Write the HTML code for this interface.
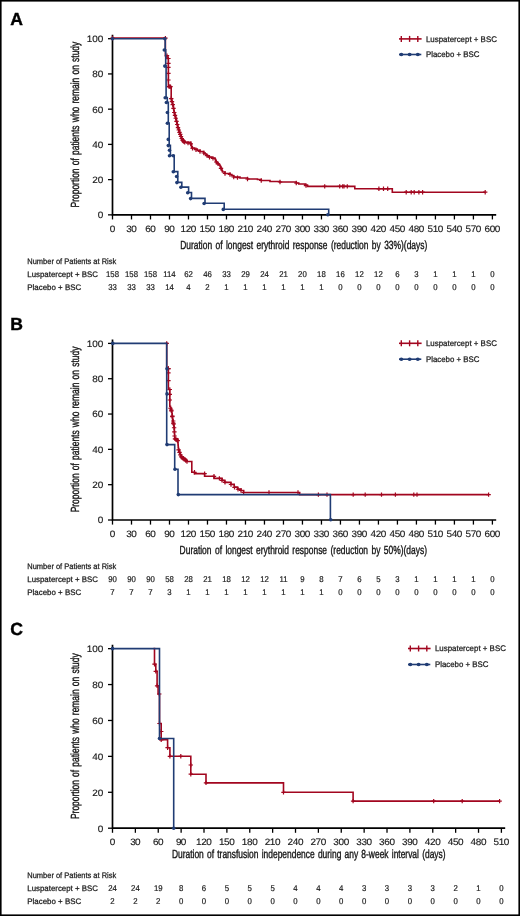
<!DOCTYPE html>
<html><head><meta charset="utf-8"><style>
html,body{margin:0;padding:0;background:#fff;}
body{width:520px;height:916px;overflow:hidden;}
.tk{font-size:9.3px;fill:#1a1a1a;stroke:#1a1a1a;stroke-width:0.15px;}
.ttl{font-size:11.8px;fill:#111;stroke:#111;stroke-width:0.35px;}
.rt{font-size:8px;fill:#1a1a1a;stroke:#1a1a1a;stroke-width:0.25px;}
.rn{font-size:8.4px;fill:#1a1a1a;stroke:#1a1a1a;stroke-width:0.2px;text-anchor:middle;}
svg{display:block;will-change:transform;text-rendering:geometricPrecision;font-family:"Liberation Sans", sans-serif;}
</style></head><body>
<svg width="520" height="916" viewBox="0 0 520 916">
<rect x="0.8" y="0.8" width="518.4" height="914.4" fill="#fff" stroke="#000" stroke-width="1.6"/>
<text x="10.3" y="25.1" font-size="17.6" font-weight="bold" fill="#000" stroke="#000" stroke-width="0.4">A</text>
<path d="M112.5,34.7 V214.85 H496.20" stroke="#000" stroke-width="1.7" fill="none"/>
<path d="M108.0,214.85 H112.5" stroke="#000" stroke-width="1.3"/>
<text transform="translate(103.3,218.25) scale(1.07,1)" class="tk" text-anchor="end">0</text>
<path d="M108.0,179.62 H112.5" stroke="#000" stroke-width="1.3"/>
<text transform="translate(103.3,183.02) scale(1.07,1)" class="tk" text-anchor="end">20</text>
<path d="M108.0,144.39 H112.5" stroke="#000" stroke-width="1.3"/>
<text transform="translate(103.3,147.79) scale(1.07,1)" class="tk" text-anchor="end">40</text>
<path d="M108.0,109.16 H112.5" stroke="#000" stroke-width="1.3"/>
<text transform="translate(103.3,112.56) scale(1.07,1)" class="tk" text-anchor="end">60</text>
<path d="M108.0,73.93 H112.5" stroke="#000" stroke-width="1.3"/>
<text transform="translate(103.3,77.33) scale(1.07,1)" class="tk" text-anchor="end">80</text>
<path d="M108.0,38.70 H112.5" stroke="#000" stroke-width="1.3"/>
<text transform="translate(103.3,42.10) scale(1.07,1)" class="tk" text-anchor="end">100</text>
<path d="M112.50,214.85 V219.45" stroke="#000" stroke-width="1.3"/>
<text transform="translate(112.50,232.05) scale(1.07,1)" class="tk" text-anchor="middle">0</text>
<path d="M131.50,214.85 V219.45" stroke="#000" stroke-width="1.3"/>
<text transform="translate(131.50,232.05) scale(1.07,1)" class="tk" text-anchor="middle" textLength="9.72" lengthAdjust="spacing">30</text>
<path d="M150.49,214.85 V219.45" stroke="#000" stroke-width="1.3"/>
<text transform="translate(150.49,232.05) scale(1.07,1)" class="tk" text-anchor="middle" textLength="9.72" lengthAdjust="spacing">60</text>
<path d="M169.49,214.85 V219.45" stroke="#000" stroke-width="1.3"/>
<text transform="translate(169.49,232.05) scale(1.07,1)" class="tk" text-anchor="middle" textLength="9.72" lengthAdjust="spacing">90</text>
<path d="M188.48,214.85 V219.45" stroke="#000" stroke-width="1.3"/>
<text transform="translate(188.48,232.05) scale(1.07,1)" class="tk" text-anchor="middle" textLength="14.81" lengthAdjust="spacing">120</text>
<path d="M207.48,214.85 V219.45" stroke="#000" stroke-width="1.3"/>
<text transform="translate(207.48,232.05) scale(1.07,1)" class="tk" text-anchor="middle" textLength="14.81" lengthAdjust="spacing">150</text>
<path d="M226.47,214.85 V219.45" stroke="#000" stroke-width="1.3"/>
<text transform="translate(226.47,232.05) scale(1.07,1)" class="tk" text-anchor="middle" textLength="14.81" lengthAdjust="spacing">180</text>
<path d="M245.47,214.85 V219.45" stroke="#000" stroke-width="1.3"/>
<text transform="translate(245.47,232.05) scale(1.07,1)" class="tk" text-anchor="middle" textLength="14.81" lengthAdjust="spacing">210</text>
<path d="M264.46,214.85 V219.45" stroke="#000" stroke-width="1.3"/>
<text transform="translate(264.46,232.05) scale(1.07,1)" class="tk" text-anchor="middle" textLength="14.81" lengthAdjust="spacing">240</text>
<path d="M283.46,214.85 V219.45" stroke="#000" stroke-width="1.3"/>
<text transform="translate(283.46,232.05) scale(1.07,1)" class="tk" text-anchor="middle" textLength="14.81" lengthAdjust="spacing">270</text>
<path d="M302.45,214.85 V219.45" stroke="#000" stroke-width="1.3"/>
<text transform="translate(302.45,232.05) scale(1.07,1)" class="tk" text-anchor="middle" textLength="14.81" lengthAdjust="spacing">300</text>
<path d="M321.45,214.85 V219.45" stroke="#000" stroke-width="1.3"/>
<text transform="translate(321.45,232.05) scale(1.07,1)" class="tk" text-anchor="middle" textLength="14.81" lengthAdjust="spacing">330</text>
<path d="M340.44,214.85 V219.45" stroke="#000" stroke-width="1.3"/>
<text transform="translate(340.44,232.05) scale(1.07,1)" class="tk" text-anchor="middle" textLength="14.81" lengthAdjust="spacing">360</text>
<path d="M359.44,214.85 V219.45" stroke="#000" stroke-width="1.3"/>
<text transform="translate(359.44,232.05) scale(1.07,1)" class="tk" text-anchor="middle" textLength="14.81" lengthAdjust="spacing">390</text>
<path d="M378.43,214.85 V219.45" stroke="#000" stroke-width="1.3"/>
<text transform="translate(378.43,232.05) scale(1.07,1)" class="tk" text-anchor="middle" textLength="14.81" lengthAdjust="spacing">420</text>
<path d="M397.43,214.85 V219.45" stroke="#000" stroke-width="1.3"/>
<text transform="translate(397.43,232.05) scale(1.07,1)" class="tk" text-anchor="middle" textLength="14.81" lengthAdjust="spacing">450</text>
<path d="M416.42,214.85 V219.45" stroke="#000" stroke-width="1.3"/>
<text transform="translate(416.42,232.05) scale(1.07,1)" class="tk" text-anchor="middle" textLength="14.81" lengthAdjust="spacing">480</text>
<path d="M435.42,214.85 V219.45" stroke="#000" stroke-width="1.3"/>
<text transform="translate(435.42,232.05) scale(1.07,1)" class="tk" text-anchor="middle" textLength="14.81" lengthAdjust="spacing">510</text>
<path d="M454.41,214.85 V219.45" stroke="#000" stroke-width="1.3"/>
<text transform="translate(454.41,232.05) scale(1.07,1)" class="tk" text-anchor="middle" textLength="14.81" lengthAdjust="spacing">540</text>
<path d="M473.41,214.85 V219.45" stroke="#000" stroke-width="1.3"/>
<text transform="translate(473.41,232.05) scale(1.07,1)" class="tk" text-anchor="middle" textLength="14.81" lengthAdjust="spacing">570</text>
<path d="M492.40,214.85 V219.45" stroke="#000" stroke-width="1.3"/>
<text transform="translate(492.40,232.05) scale(1.07,1)" class="tk" text-anchor="middle" textLength="14.81" lengthAdjust="spacing">600</text>
<text transform="translate(79,124.58) rotate(-90) scale(0.715,1)" class="ttl" text-anchor="middle" word-spacing="1.2" textLength="231.75" lengthAdjust="spacing">Proportion of patients who remain on study</text>
<text transform="translate(180.2,248.75) scale(0.715,1)" class="ttl" word-spacing="1.50" textLength="345.59" lengthAdjust="spacing">Duration of longest erythroid response (reduction by 33%)(days)</text>
<path d="M399.0,38.9 H421.6" stroke="#a2061f" stroke-width="1.6"/>
<path d="M401.30,35.9 V41.9" stroke="#a2061f" stroke-width="1.4"/>
<path d="M409.60,35.9 V41.9" stroke="#a2061f" stroke-width="1.4"/>
<path d="M417.80,35.9 V41.9" stroke="#a2061f" stroke-width="1.4"/>
<text x="425.9" y="41.8" font-size="8.1" fill="#1a1a1a" textLength="71.0" lengthAdjust="spacingAndGlyphs" stroke="#1a1a1a" stroke-width="0.25">Luspatercept + BSC</text>
<path d="M399.0,54.5 H421.3" stroke="#203c74" stroke-width="1.6"/>
<ellipse cx="401.30" cy="54.5" rx="2.0" ry="1.7" fill="#203c74"/>
<ellipse cx="409.60" cy="54.5" rx="2.0" ry="1.7" fill="#203c74"/>
<ellipse cx="417.80" cy="54.5" rx="2.0" ry="1.7" fill="#203c74"/>
<text x="425.9" y="57.4" font-size="8.1" fill="#1a1a1a" textLength="53.6" lengthAdjust="spacingAndGlyphs" stroke="#1a1a1a" stroke-width="0.25">Placebo + BSC</text>
<text x="27.3" y="264.0" class="rt" textLength="88.9" lengthAdjust="spacingAndGlyphs">Number of Patients at Risk</text>
<text x="27.3" y="277.20" class="rt" textLength="70.6" lengthAdjust="spacingAndGlyphs">Luspatercept + BSC</text>
<text x="27.3" y="290.40" class="rt" textLength="53.9" lengthAdjust="spacingAndGlyphs">Placebo + BSC</text>
<text transform="translate(112.50,277.20) scale(0.93,1)" class="rn">158</text>
<text transform="translate(131.50,277.20) scale(0.93,1)" class="rn">158</text>
<text transform="translate(150.49,277.20) scale(0.93,1)" class="rn">158</text>
<text transform="translate(169.49,277.20) scale(0.93,1)" class="rn">114</text>
<text transform="translate(188.48,277.20) scale(0.93,1)" class="rn">62</text>
<text transform="translate(207.48,277.20) scale(0.93,1)" class="rn">46</text>
<text transform="translate(226.47,277.20) scale(0.93,1)" class="rn">33</text>
<text transform="translate(245.47,277.20) scale(0.93,1)" class="rn">29</text>
<text transform="translate(264.46,277.20) scale(0.93,1)" class="rn">24</text>
<text transform="translate(283.46,277.20) scale(0.93,1)" class="rn">21</text>
<text transform="translate(302.45,277.20) scale(0.93,1)" class="rn">20</text>
<text transform="translate(321.45,277.20) scale(0.93,1)" class="rn">18</text>
<text transform="translate(340.44,277.20) scale(0.93,1)" class="rn">16</text>
<text transform="translate(359.44,277.20) scale(0.93,1)" class="rn">12</text>
<text transform="translate(378.43,277.20) scale(0.93,1)" class="rn">12</text>
<text transform="translate(397.43,277.20) scale(0.93,1)" class="rn">6</text>
<text transform="translate(416.42,277.20) scale(0.93,1)" class="rn">3</text>
<text transform="translate(435.42,277.20) scale(0.93,1)" class="rn">1</text>
<text transform="translate(454.41,277.20) scale(0.93,1)" class="rn">1</text>
<text transform="translate(473.41,277.20) scale(0.93,1)" class="rn">1</text>
<text transform="translate(492.40,277.20) scale(0.93,1)" class="rn">0</text>
<text transform="translate(112.50,290.40) scale(0.93,1)" class="rn">33</text>
<text transform="translate(131.50,290.40) scale(0.93,1)" class="rn">33</text>
<text transform="translate(150.49,290.40) scale(0.93,1)" class="rn">33</text>
<text transform="translate(169.49,290.40) scale(0.93,1)" class="rn">14</text>
<text transform="translate(188.48,290.40) scale(0.93,1)" class="rn">4</text>
<text transform="translate(207.48,290.40) scale(0.93,1)" class="rn">2</text>
<text transform="translate(226.47,290.40) scale(0.93,1)" class="rn">1</text>
<text transform="translate(245.47,290.40) scale(0.93,1)" class="rn">1</text>
<text transform="translate(264.46,290.40) scale(0.93,1)" class="rn">1</text>
<text transform="translate(283.46,290.40) scale(0.93,1)" class="rn">1</text>
<text transform="translate(302.45,290.40) scale(0.93,1)" class="rn">1</text>
<text transform="translate(321.45,290.40) scale(0.93,1)" class="rn">1</text>
<text transform="translate(340.44,290.40) scale(0.93,1)" class="rn">0</text>
<text transform="translate(359.44,290.40) scale(0.93,1)" class="rn">0</text>
<text transform="translate(378.43,290.40) scale(0.93,1)" class="rn">0</text>
<text transform="translate(397.43,290.40) scale(0.93,1)" class="rn">0</text>
<text transform="translate(416.42,290.40) scale(0.93,1)" class="rn">0</text>
<text transform="translate(435.42,290.40) scale(0.93,1)" class="rn">0</text>
<text transform="translate(454.41,290.40) scale(0.93,1)" class="rn">0</text>
<text transform="translate(473.41,290.40) scale(0.93,1)" class="rn">0</text>
<text transform="translate(492.40,290.40) scale(0.93,1)" class="rn">0</text>
<path d="M112.50,38.10H165.40H165.40V39.20H165.40V40.30H165.40V41.40H165.40V42.50H165.40V43.60H165.40V44.70H165.40V45.80H165.40V46.90H165.40V48.00H165.40V49.10H165.40V50.20H165.40V51.30H165.40V52.40H165.40V53.50H165.40V54.60H165.40V55.70H167.00H167.00V56.63H167.00V57.57H167.00V58.50H168.40H168.40V59.62H168.40V60.75H168.40V61.87H168.40V63.00H168.40V64.12H168.40V65.24H168.40V66.37H168.40V67.49H168.40V68.62H168.40V69.74H168.40V70.86H168.40V71.99H168.40V73.11H168.40V74.24H168.40V75.36H168.40V76.48H168.40V77.61H168.40V78.73H168.40V79.86H168.40V80.98H168.40V82.10H168.40V83.23H168.40V84.35H168.40V85.48H168.40V86.60H171.20H171.20V87.68H171.20V88.76H171.20V89.85H171.20V90.93H171.20V92.01H171.20V93.09H171.20V94.17H171.20V95.25H171.20V96.34H171.20V97.42H171.20V98.50H171.47V99.57H171.74V100.64H172.01V101.71H172.29V102.79H172.56V103.86H172.83V104.93H173.10V106.00H173.28V107.05H173.47V108.10H173.65V109.15H173.83V110.20H174.02V111.25H174.20V112.30H174.49V113.40H174.77V114.50H175.06V115.60H175.34V116.70H175.63V117.80H175.91V118.90H176.20V120.00H176.46V121.10H176.71V122.20H176.97V123.30H177.23V124.40H177.49V125.50H177.74V126.60H178.00V127.70H178.40V128.92H178.80V130.14H179.20V131.36H179.60V132.58H180.00V133.80H180.38V134.83H180.77V135.87H181.15V136.90H181.53V137.93H181.92V138.97H182.30V140.00H183.45V141.15H184.60V142.30H190.80V143.80H191.08V144.85H191.35V145.90H191.62V146.95H191.90V148.00H194.60V149.17H197.30V150.33H200.00V151.50H203.75V153.00H205.00V154.00H206.25V155.00H207.50V156.00H208.75V157.00H211.88V158.00H215.00V159.00H215.42V160.00H215.83V161.00H216.25V162.00H217.19V163.00H218.12V164.00H219.06V165.00H220.00V166.00H220.50V167.20H221.00V168.40H221.50V169.60H222.00V170.80H222.50V172.00H225.00V173.50H230.00V174.50H231.88V175.75H233.75V177.00H240.00V178.00H247.50V179.00H257.50V179.50H261.25V180.50H270.00V181.50H280.00V182.00H296.25V183.00H298.75V184.00H305.00V185.00H307.50V186.40H354.80H354.80V187.60H354.80V188.80H392.30H392.30V189.93H392.30V191.07H392.30V192.20H485.20" stroke="#a2061f" stroke-width="1.6" fill="none" stroke-linejoin="miter"/>
<path d="M163.20,38.10H167.60M165.40,35.90V40.30" stroke="#a2061f" stroke-width="1.2"/>
<path d="M164.80,55.70H169.20M167.00,53.50V57.90" stroke="#a2061f" stroke-width="1.2"/>
<path d="M166.20,58.50H170.60M168.40,56.30V60.70" stroke="#a2061f" stroke-width="1.2"/>
<path d="M166.80,86.60H171.20M169.00,84.40V88.80" stroke="#a2061f" stroke-width="1.2"/>
<path d="M167.55,86.60H171.95M169.75,84.40V88.80" stroke="#a2061f" stroke-width="1.2"/>
<path d="M168.30,86.60H172.70M170.50,84.40V88.80" stroke="#a2061f" stroke-width="1.2"/>
<path d="M169.05,98.70H173.45M171.25,96.50V100.90" stroke="#a2061f" stroke-width="1.2"/>
<path d="M169.80,101.66H174.20M172.00,99.46V103.86" stroke="#a2061f" stroke-width="1.2"/>
<path d="M170.55,104.62H174.95M172.75,102.42V106.82" stroke="#a2061f" stroke-width="1.2"/>
<path d="M171.30,108.29H175.70M173.50,106.09V110.49" stroke="#a2061f" stroke-width="1.2"/>
<path d="M172.05,112.49H176.45M174.25,110.29V114.69" stroke="#a2061f" stroke-width="1.2"/>
<path d="M172.80,115.38H177.20M175.00,113.18V117.58" stroke="#a2061f" stroke-width="1.2"/>
<path d="M173.55,118.27H177.95M175.75,116.07V120.47" stroke="#a2061f" stroke-width="1.2"/>
<path d="M174.30,121.28H178.70M176.50,119.08V123.48" stroke="#a2061f" stroke-width="1.2"/>
<path d="M175.05,124.49H179.45M177.25,122.29V126.69" stroke="#a2061f" stroke-width="1.2"/>
<path d="M175.80,127.70H180.20M178.00,125.50V129.90" stroke="#a2061f" stroke-width="1.2"/>
<path d="M176.55,129.99H180.95M178.75,127.79V132.19" stroke="#a2061f" stroke-width="1.2"/>
<path d="M177.30,132.28H181.70M179.50,130.08V134.47" stroke="#a2061f" stroke-width="1.2"/>
<path d="M178.05,134.47H182.45M180.25,132.27V136.67" stroke="#a2061f" stroke-width="1.2"/>
<path d="M178.80,136.50H183.20M181.00,134.30V138.70" stroke="#a2061f" stroke-width="1.2"/>
<path d="M179.55,138.52H183.95M181.75,136.32V140.72" stroke="#a2061f" stroke-width="1.2"/>
<path d="M180.30,140.20H184.70M182.50,138.00V142.40" stroke="#a2061f" stroke-width="1.2"/>
<path d="M181.05,140.95H185.45M183.25,138.75V143.15" stroke="#a2061f" stroke-width="1.2"/>
<path d="M181.80,141.70H186.20M184.00,139.50V143.90" stroke="#a2061f" stroke-width="1.2"/>
<path d="M182.55,142.34H186.95M184.75,140.14V144.54" stroke="#a2061f" stroke-width="1.2"/>
<path d="M185.80,143.12H190.20M188.00,140.92V145.32" stroke="#a2061f" stroke-width="1.2"/>
<path d="M188.60,143.80H193.00M190.80,141.60V146.00" stroke="#a2061f" stroke-width="1.2"/>
<path d="M190.30,148.26H194.70M192.50,146.06V150.46" stroke="#a2061f" stroke-width="1.2"/>
<path d="M193.80,149.77H198.20M196.00,147.57V151.97" stroke="#a2061f" stroke-width="1.2"/>
<path d="M197.80,151.50H202.20M200.00,149.30V153.70" stroke="#a2061f" stroke-width="1.2"/>
<path d="M201.55,153.00H205.95M203.75,150.80V155.20" stroke="#a2061f" stroke-width="1.2"/>
<path d="M204.80,155.60H209.20M207.00,153.40V157.80" stroke="#a2061f" stroke-width="1.2"/>
<path d="M207.30,157.24H211.70M209.50,155.04V159.44" stroke="#a2061f" stroke-width="1.2"/>
<path d="M210.80,158.36H215.20M213.00,156.16V160.56" stroke="#a2061f" stroke-width="1.2"/>
<path d="M214.05,162.00H218.45M216.25,159.80V164.20" stroke="#a2061f" stroke-width="1.2"/>
<path d="M215.80,163.87H220.20M218.00,161.67V166.07" stroke="#a2061f" stroke-width="1.2"/>
<path d="M218.80,168.40H223.20M221.00,166.20V170.60" stroke="#a2061f" stroke-width="1.2"/>
<path d="M222.80,173.50H227.20M225.00,171.30V175.70" stroke="#a2061f" stroke-width="1.2"/>
<path d="M227.80,174.50H232.20M230.00,172.30V176.70" stroke="#a2061f" stroke-width="1.2"/>
<path d="M231.55,177.00H235.95M233.75,174.80V179.20" stroke="#a2061f" stroke-width="1.2"/>
<path d="M235.30,177.60H239.70M237.50,175.40V179.80" stroke="#a2061f" stroke-width="1.2"/>
<path d="M245.30,179.00H249.70M247.50,176.80V181.20" stroke="#a2061f" stroke-width="1.2"/>
<path d="M259.05,180.50H263.45M261.25,178.30V182.70" stroke="#a2061f" stroke-width="1.2"/>
<path d="M277.80,182.00H282.20M280.00,179.80V184.20" stroke="#a2061f" stroke-width="1.2"/>
<path d="M294.05,183.00H298.45M296.25,180.80V185.20" stroke="#a2061f" stroke-width="1.2"/>
<path d="M303.80,185.56H308.20M306.00,183.36V187.76" stroke="#a2061f" stroke-width="1.2"/>
<path d="M322.50,186.40H326.90M324.70,184.20V188.60" stroke="#a2061f" stroke-width="1.2"/>
<path d="M337.50,186.40H341.90M339.70,184.20V188.60" stroke="#a2061f" stroke-width="1.2"/>
<path d="M340.50,186.40H344.90M342.70,184.20V188.60" stroke="#a2061f" stroke-width="1.2"/>
<path d="M341.80,186.40H346.20M344.00,184.20V188.60" stroke="#a2061f" stroke-width="1.2"/>
<path d="M345.10,186.40H349.50M347.30,184.20V188.60" stroke="#a2061f" stroke-width="1.2"/>
<path d="M376.70,188.80H381.10M378.90,186.60V191.00" stroke="#a2061f" stroke-width="1.2"/>
<path d="M381.30,188.80H385.70M383.50,186.60V191.00" stroke="#a2061f" stroke-width="1.2"/>
<path d="M385.50,188.80H389.90M387.70,186.60V191.00" stroke="#a2061f" stroke-width="1.2"/>
<path d="M404.00,192.20H408.40M406.20,190.00V194.40" stroke="#a2061f" stroke-width="1.2"/>
<path d="M409.00,192.20H413.40M411.20,190.00V194.40" stroke="#a2061f" stroke-width="1.2"/>
<path d="M412.00,192.20H416.40M414.20,190.00V194.40" stroke="#a2061f" stroke-width="1.2"/>
<path d="M416.70,192.20H421.10M418.90,190.00V194.40" stroke="#a2061f" stroke-width="1.2"/>
<path d="M420.40,192.20H424.80M422.60,190.00V194.40" stroke="#a2061f" stroke-width="1.2"/>
<path d="M483.00,192.20H487.40M485.20,190.00V194.40" stroke="#a2061f" stroke-width="1.2"/>
<path d="M166.20,63.30H170.60M168.40,61.10V65.50" stroke="#a2061f" stroke-width="1.2"/>
<path d="M166.20,67.30H170.60M168.40,65.10V69.50" stroke="#a2061f" stroke-width="1.2"/>
<path d="M166.20,73.40H170.60M168.40,71.20V75.60" stroke="#a2061f" stroke-width="1.2"/>
<path d="M166.20,80.00H170.60M168.40,77.80V82.20" stroke="#a2061f" stroke-width="1.2"/>
<path d="M112.6,38.7 H165.2 V49.8 H165.7 V65.9 H166.1 V97.6 H167.3 V102.3 H168.3 V123 H169.2 V145.4 H170.4 V155.5 H174.2 V171.6 H177.8 V182.4 H181.8 V187.1 H188.6 V192.5 H191.5 V198.4 H205 V203.3 H224.2 V209.2 H328.7 V214.5" stroke="#203c74" stroke-width="1.6" fill="none" stroke-linejoin="miter"/>
<path d="M110.30,38.00H114.70M112.50,35.80V40.20" stroke="#a2061f" stroke-width="1.2"/>
<circle cx="112.50" cy="38.70" r="1.8" fill="#203c74"/>
<circle cx="164.90" cy="38.70" r="1.8" fill="#203c74"/>
<circle cx="164.30" cy="50.00" r="1.8" fill="#203c74"/>
<circle cx="164.80" cy="66.10" r="1.8" fill="#203c74"/>
<circle cx="165.20" cy="97.80" r="1.8" fill="#203c74"/>
<circle cx="166.40" cy="102.50" r="1.8" fill="#203c74"/>
<circle cx="167.40" cy="112.50" r="1.8" fill="#203c74"/>
<circle cx="167.40" cy="123.20" r="1.8" fill="#203c74"/>
<circle cx="168.30" cy="139.40" r="1.8" fill="#203c74"/>
<circle cx="168.30" cy="145.60" r="1.8" fill="#203c74"/>
<circle cx="169.50" cy="150.30" r="1.8" fill="#203c74"/>
<circle cx="169.50" cy="155.70" r="1.8" fill="#203c74"/>
<circle cx="173.30" cy="155.70" r="1.8" fill="#203c74"/>
<circle cx="173.30" cy="171.80" r="1.8" fill="#203c74"/>
<circle cx="176.60" cy="176.50" r="1.8" fill="#203c74"/>
<circle cx="176.90" cy="182.60" r="1.8" fill="#203c74"/>
<circle cx="180.90" cy="187.30" r="1.8" fill="#203c74"/>
<circle cx="187.70" cy="192.70" r="1.8" fill="#203c74"/>
<circle cx="190.60" cy="198.60" r="1.8" fill="#203c74"/>
<circle cx="204.10" cy="203.50" r="1.8" fill="#203c74"/>
<circle cx="223.30" cy="209.40" r="1.8" fill="#203c74"/>
<circle cx="327.80" cy="214.80" r="1.8" fill="#203c74"/>
<text x="10.3" y="329.5" font-size="17.6" font-weight="bold" fill="#000" stroke="#000" stroke-width="0.4">B</text>
<path d="M112.5,339.4 V520.0 H496.20" stroke="#000" stroke-width="1.7" fill="none"/>
<path d="M108.0,520.00 H112.5" stroke="#000" stroke-width="1.3"/>
<text transform="translate(103.3,523.40) scale(1.07,1)" class="tk" text-anchor="end">0</text>
<path d="M108.0,484.68 H112.5" stroke="#000" stroke-width="1.3"/>
<text transform="translate(103.3,488.08) scale(1.07,1)" class="tk" text-anchor="end">20</text>
<path d="M108.0,449.36 H112.5" stroke="#000" stroke-width="1.3"/>
<text transform="translate(103.3,452.76) scale(1.07,1)" class="tk" text-anchor="end">40</text>
<path d="M108.0,414.04 H112.5" stroke="#000" stroke-width="1.3"/>
<text transform="translate(103.3,417.44) scale(1.07,1)" class="tk" text-anchor="end">60</text>
<path d="M108.0,378.72 H112.5" stroke="#000" stroke-width="1.3"/>
<text transform="translate(103.3,382.12) scale(1.07,1)" class="tk" text-anchor="end">80</text>
<path d="M108.0,343.40 H112.5" stroke="#000" stroke-width="1.3"/>
<text transform="translate(103.3,346.80) scale(1.07,1)" class="tk" text-anchor="end">100</text>
<path d="M112.50,520.0 V524.6" stroke="#000" stroke-width="1.3"/>
<text transform="translate(112.50,537.20) scale(1.07,1)" class="tk" text-anchor="middle">0</text>
<path d="M131.50,520.0 V524.6" stroke="#000" stroke-width="1.3"/>
<text transform="translate(131.50,537.20) scale(1.07,1)" class="tk" text-anchor="middle" textLength="9.72" lengthAdjust="spacing">30</text>
<path d="M150.49,520.0 V524.6" stroke="#000" stroke-width="1.3"/>
<text transform="translate(150.49,537.20) scale(1.07,1)" class="tk" text-anchor="middle" textLength="9.72" lengthAdjust="spacing">60</text>
<path d="M169.49,520.0 V524.6" stroke="#000" stroke-width="1.3"/>
<text transform="translate(169.49,537.20) scale(1.07,1)" class="tk" text-anchor="middle" textLength="9.72" lengthAdjust="spacing">90</text>
<path d="M188.48,520.0 V524.6" stroke="#000" stroke-width="1.3"/>
<text transform="translate(188.48,537.20) scale(1.07,1)" class="tk" text-anchor="middle" textLength="14.81" lengthAdjust="spacing">120</text>
<path d="M207.48,520.0 V524.6" stroke="#000" stroke-width="1.3"/>
<text transform="translate(207.48,537.20) scale(1.07,1)" class="tk" text-anchor="middle" textLength="14.81" lengthAdjust="spacing">150</text>
<path d="M226.47,520.0 V524.6" stroke="#000" stroke-width="1.3"/>
<text transform="translate(226.47,537.20) scale(1.07,1)" class="tk" text-anchor="middle" textLength="14.81" lengthAdjust="spacing">180</text>
<path d="M245.47,520.0 V524.6" stroke="#000" stroke-width="1.3"/>
<text transform="translate(245.47,537.20) scale(1.07,1)" class="tk" text-anchor="middle" textLength="14.81" lengthAdjust="spacing">210</text>
<path d="M264.46,520.0 V524.6" stroke="#000" stroke-width="1.3"/>
<text transform="translate(264.46,537.20) scale(1.07,1)" class="tk" text-anchor="middle" textLength="14.81" lengthAdjust="spacing">240</text>
<path d="M283.46,520.0 V524.6" stroke="#000" stroke-width="1.3"/>
<text transform="translate(283.46,537.20) scale(1.07,1)" class="tk" text-anchor="middle" textLength="14.81" lengthAdjust="spacing">270</text>
<path d="M302.45,520.0 V524.6" stroke="#000" stroke-width="1.3"/>
<text transform="translate(302.45,537.20) scale(1.07,1)" class="tk" text-anchor="middle" textLength="14.81" lengthAdjust="spacing">300</text>
<path d="M321.45,520.0 V524.6" stroke="#000" stroke-width="1.3"/>
<text transform="translate(321.45,537.20) scale(1.07,1)" class="tk" text-anchor="middle" textLength="14.81" lengthAdjust="spacing">330</text>
<path d="M340.44,520.0 V524.6" stroke="#000" stroke-width="1.3"/>
<text transform="translate(340.44,537.20) scale(1.07,1)" class="tk" text-anchor="middle" textLength="14.81" lengthAdjust="spacing">360</text>
<path d="M359.44,520.0 V524.6" stroke="#000" stroke-width="1.3"/>
<text transform="translate(359.44,537.20) scale(1.07,1)" class="tk" text-anchor="middle" textLength="14.81" lengthAdjust="spacing">390</text>
<path d="M378.43,520.0 V524.6" stroke="#000" stroke-width="1.3"/>
<text transform="translate(378.43,537.20) scale(1.07,1)" class="tk" text-anchor="middle" textLength="14.81" lengthAdjust="spacing">420</text>
<path d="M397.43,520.0 V524.6" stroke="#000" stroke-width="1.3"/>
<text transform="translate(397.43,537.20) scale(1.07,1)" class="tk" text-anchor="middle" textLength="14.81" lengthAdjust="spacing">450</text>
<path d="M416.42,520.0 V524.6" stroke="#000" stroke-width="1.3"/>
<text transform="translate(416.42,537.20) scale(1.07,1)" class="tk" text-anchor="middle" textLength="14.81" lengthAdjust="spacing">480</text>
<path d="M435.42,520.0 V524.6" stroke="#000" stroke-width="1.3"/>
<text transform="translate(435.42,537.20) scale(1.07,1)" class="tk" text-anchor="middle" textLength="14.81" lengthAdjust="spacing">510</text>
<path d="M454.41,520.0 V524.6" stroke="#000" stroke-width="1.3"/>
<text transform="translate(454.41,537.20) scale(1.07,1)" class="tk" text-anchor="middle" textLength="14.81" lengthAdjust="spacing">540</text>
<path d="M473.41,520.0 V524.6" stroke="#000" stroke-width="1.3"/>
<text transform="translate(473.41,537.20) scale(1.07,1)" class="tk" text-anchor="middle" textLength="14.81" lengthAdjust="spacing">570</text>
<path d="M492.40,520.0 V524.6" stroke="#000" stroke-width="1.3"/>
<text transform="translate(492.40,537.20) scale(1.07,1)" class="tk" text-anchor="middle" textLength="14.81" lengthAdjust="spacing">600</text>
<text transform="translate(79,429.50) rotate(-90) scale(0.715,1)" class="ttl" text-anchor="middle" word-spacing="1.2" textLength="231.75" lengthAdjust="spacing">Proportion of patients who remain on study</text>
<text transform="translate(179.6,553.90) scale(0.715,1)" class="ttl" word-spacing="1.56" textLength="346.01" lengthAdjust="spacing">Duration of longest erythroid response (reduction by 50%)(days)</text>
<path d="M399.0,343.3 H421.6" stroke="#a2061f" stroke-width="1.6"/>
<path d="M401.30,340.3 V346.3" stroke="#a2061f" stroke-width="1.4"/>
<path d="M409.60,340.3 V346.3" stroke="#a2061f" stroke-width="1.4"/>
<path d="M417.80,340.3 V346.3" stroke="#a2061f" stroke-width="1.4"/>
<text x="425.9" y="346.2" font-size="8.1" fill="#1a1a1a" textLength="71.0" lengthAdjust="spacingAndGlyphs" stroke="#1a1a1a" stroke-width="0.25">Luspatercept + BSC</text>
<path d="M399.0,359.2 H421.3" stroke="#203c74" stroke-width="1.6"/>
<ellipse cx="401.30" cy="359.2" rx="2.0" ry="1.7" fill="#203c74"/>
<ellipse cx="409.60" cy="359.2" rx="2.0" ry="1.7" fill="#203c74"/>
<ellipse cx="417.80" cy="359.2" rx="2.0" ry="1.7" fill="#203c74"/>
<text x="425.9" y="362.09999999999997" font-size="8.1" fill="#1a1a1a" textLength="53.6" lengthAdjust="spacingAndGlyphs" stroke="#1a1a1a" stroke-width="0.25">Placebo + BSC</text>
<text x="27.3" y="569.0" class="rt" textLength="88.9" lengthAdjust="spacingAndGlyphs">Number of Patients at Risk</text>
<text x="27.3" y="582.20" class="rt" textLength="70.6" lengthAdjust="spacingAndGlyphs">Luspatercept + BSC</text>
<text x="27.3" y="595.40" class="rt" textLength="53.9" lengthAdjust="spacingAndGlyphs">Placebo + BSC</text>
<text transform="translate(112.50,582.20) scale(0.93,1)" class="rn">90</text>
<text transform="translate(131.50,582.20) scale(0.93,1)" class="rn">90</text>
<text transform="translate(150.49,582.20) scale(0.93,1)" class="rn">90</text>
<text transform="translate(169.49,582.20) scale(0.93,1)" class="rn">58</text>
<text transform="translate(188.48,582.20) scale(0.93,1)" class="rn">28</text>
<text transform="translate(207.48,582.20) scale(0.93,1)" class="rn">21</text>
<text transform="translate(226.47,582.20) scale(0.93,1)" class="rn">18</text>
<text transform="translate(245.47,582.20) scale(0.93,1)" class="rn">12</text>
<text transform="translate(264.46,582.20) scale(0.93,1)" class="rn">12</text>
<text transform="translate(283.46,582.20) scale(0.93,1)" class="rn">11</text>
<text transform="translate(302.45,582.20) scale(0.93,1)" class="rn">9</text>
<text transform="translate(321.45,582.20) scale(0.93,1)" class="rn">8</text>
<text transform="translate(340.44,582.20) scale(0.93,1)" class="rn">7</text>
<text transform="translate(359.44,582.20) scale(0.93,1)" class="rn">6</text>
<text transform="translate(378.43,582.20) scale(0.93,1)" class="rn">5</text>
<text transform="translate(397.43,582.20) scale(0.93,1)" class="rn">3</text>
<text transform="translate(416.42,582.20) scale(0.93,1)" class="rn">1</text>
<text transform="translate(435.42,582.20) scale(0.93,1)" class="rn">1</text>
<text transform="translate(454.41,582.20) scale(0.93,1)" class="rn">1</text>
<text transform="translate(473.41,582.20) scale(0.93,1)" class="rn">1</text>
<text transform="translate(492.40,582.20) scale(0.93,1)" class="rn">0</text>
<text transform="translate(112.50,595.40) scale(0.93,1)" class="rn">7</text>
<text transform="translate(131.50,595.40) scale(0.93,1)" class="rn">7</text>
<text transform="translate(150.49,595.40) scale(0.93,1)" class="rn">7</text>
<text transform="translate(169.49,595.40) scale(0.93,1)" class="rn">3</text>
<text transform="translate(188.48,595.40) scale(0.93,1)" class="rn">1</text>
<text transform="translate(207.48,595.40) scale(0.93,1)" class="rn">1</text>
<text transform="translate(226.47,595.40) scale(0.93,1)" class="rn">1</text>
<text transform="translate(245.47,595.40) scale(0.93,1)" class="rn">1</text>
<text transform="translate(264.46,595.40) scale(0.93,1)" class="rn">1</text>
<text transform="translate(283.46,595.40) scale(0.93,1)" class="rn">1</text>
<text transform="translate(302.45,595.40) scale(0.93,1)" class="rn">1</text>
<text transform="translate(321.45,595.40) scale(0.93,1)" class="rn">1</text>
<text transform="translate(340.44,595.40) scale(0.93,1)" class="rn">0</text>
<text transform="translate(359.44,595.40) scale(0.93,1)" class="rn">0</text>
<text transform="translate(378.43,595.40) scale(0.93,1)" class="rn">0</text>
<text transform="translate(397.43,595.40) scale(0.93,1)" class="rn">0</text>
<text transform="translate(416.42,595.40) scale(0.93,1)" class="rn">0</text>
<text transform="translate(435.42,595.40) scale(0.93,1)" class="rn">0</text>
<text transform="translate(454.41,595.40) scale(0.93,1)" class="rn">0</text>
<text transform="translate(473.41,595.40) scale(0.93,1)" class="rn">0</text>
<text transform="translate(492.40,595.40) scale(0.93,1)" class="rn">0</text>
<path d="M166.00,343.40H166.70H166.70V345.33H166.70V347.26H166.70V349.19H166.70V351.12H166.70V353.05H166.70V354.98H166.70V356.92H166.70V358.85H166.70V360.78H166.70V362.71H166.70V364.64H166.70V366.57H166.70V368.50H168.40H168.40V370.41H168.40V372.32H168.40V374.23H168.40V376.14H168.40V378.05H168.40V379.95H168.40V381.86H168.40V383.77H168.40V385.68H168.40V387.59H168.40V389.50H169.80H169.80V391.36H169.80V393.21H169.80V395.07H169.80V396.92H169.80V398.78H169.80V400.63H169.80V402.49H169.80V404.34H169.80V406.20H170.47V408.17H171.13V410.13H171.80V412.10H172.00V413.88H172.20V415.66H172.40V417.44H172.60V419.22H172.80V421.00H173.18V422.95H173.55V424.90H173.93V426.85H174.30V428.80H174.38V430.78H174.46V432.76H174.54V434.74H174.62V436.72H174.70V438.70H177.70V440.60H177.88V442.80H178.05V445.00H178.22V447.20H178.40V449.40H179.07V451.25H179.75V453.10H180.43V454.95H181.10V456.80H183.10V458.50H185.10V459.50H186.40V461.50H191.80H191.80V463.30H191.80V465.10H191.80V466.90H191.80V468.70H191.80V470.50H191.80V472.30H194.50H194.50V473.60H204.60H204.60V476.30H214.00H214.00V478.40H219.40H222.10V480.40H224.80V482.40H230.90H230.90V484.40H234.20V487.10H237.60V489.10H241.00V490.50H243.60V492.50H299.60H299.60V494.60H488.60" stroke="#a2061f" stroke-width="1.6" fill="none" stroke-linejoin="miter"/>
<path d="M164.50,343.40H168.90M166.70,341.20V345.60" stroke="#a2061f" stroke-width="1.2"/>
<path d="M166.20,368.50H170.60M168.40,366.30V370.70" stroke="#a2061f" stroke-width="1.2"/>
<path d="M167.60,389.50H172.00M169.80,387.30V391.70" stroke="#a2061f" stroke-width="1.2"/>
<path d="M168.30,408.26H172.70M170.50,406.06V410.46" stroke="#a2061f" stroke-width="1.2"/>
<path d="M169.20,410.92H173.60M171.40,408.72V413.12" stroke="#a2061f" stroke-width="1.2"/>
<path d="M170.10,416.55H174.50M172.30,414.35V418.75" stroke="#a2061f" stroke-width="1.2"/>
<path d="M171.00,423.08H175.40M173.20,420.88V425.28" stroke="#a2061f" stroke-width="1.2"/>
<path d="M171.90,427.76H176.30M174.10,425.56V429.96" stroke="#a2061f" stroke-width="1.2"/>
<path d="M172.80,438.89H177.20M175.00,436.69V441.09" stroke="#a2061f" stroke-width="1.2"/>
<path d="M173.70,439.46H178.10M175.90,437.26V441.66" stroke="#a2061f" stroke-width="1.2"/>
<path d="M174.60,440.03H179.00M176.80,437.83V442.23" stroke="#a2061f" stroke-width="1.2"/>
<path d="M175.50,440.60H179.90M177.70,438.40V442.80" stroke="#a2061f" stroke-width="1.2"/>
<path d="M176.40,449.95H180.80M178.60,447.75V452.15" stroke="#a2061f" stroke-width="1.2"/>
<path d="M177.30,452.41H181.70M179.50,450.21V454.61" stroke="#a2061f" stroke-width="1.2"/>
<path d="M178.20,454.88H182.60M180.40,452.68V457.08" stroke="#a2061f" stroke-width="1.2"/>
<path d="M179.10,456.97H183.50M181.30,454.77V459.17" stroke="#a2061f" stroke-width="1.2"/>
<path d="M180.00,457.74H184.40M182.20,455.54V459.94" stroke="#a2061f" stroke-width="1.2"/>
<path d="M180.90,458.50H185.30M183.10,456.30V460.70" stroke="#a2061f" stroke-width="1.2"/>
<path d="M181.80,458.95H186.20M184.00,456.75V461.15" stroke="#a2061f" stroke-width="1.2"/>
<path d="M182.70,459.40H187.10M184.90,457.20V461.60" stroke="#a2061f" stroke-width="1.2"/>
<path d="M183.60,460.58H188.00M185.80,458.38V462.78" stroke="#a2061f" stroke-width="1.2"/>
<path d="M184.80,461.50H189.20M187.00,459.30V463.70" stroke="#a2061f" stroke-width="1.2"/>
<path d="M192.30,472.30H196.70M194.50,470.10V474.50" stroke="#a2061f" stroke-width="1.2"/>
<path d="M202.40,473.60H206.80M204.60,471.40V475.80" stroke="#a2061f" stroke-width="1.2"/>
<path d="M211.80,476.30H216.20M214.00,474.10V478.50" stroke="#a2061f" stroke-width="1.2"/>
<path d="M217.20,478.40H221.60M219.40,476.20V480.60" stroke="#a2061f" stroke-width="1.2"/>
<path d="M219.80,480.33H224.20M222.00,478.13V482.53" stroke="#a2061f" stroke-width="1.2"/>
<path d="M222.80,482.40H227.20M225.00,480.20V484.60" stroke="#a2061f" stroke-width="1.2"/>
<path d="M228.80,484.48H233.20M231.00,482.28V486.68" stroke="#a2061f" stroke-width="1.2"/>
<path d="M232.30,487.28H236.70M234.50,485.08V489.48" stroke="#a2061f" stroke-width="1.2"/>
<path d="M235.80,489.26H240.20M238.00,487.06V491.46" stroke="#a2061f" stroke-width="1.2"/>
<path d="M238.80,490.50H243.20M241.00,488.30V492.70" stroke="#a2061f" stroke-width="1.2"/>
<path d="M241.40,492.50H245.80M243.60,490.30V494.70" stroke="#a2061f" stroke-width="1.2"/>
<path d="M266.80,492.50H271.20M269.00,490.30V494.70" stroke="#a2061f" stroke-width="1.2"/>
<path d="M295.80,492.50H300.20M298.00,490.30V494.70" stroke="#a2061f" stroke-width="1.2"/>
<path d="M316.20,494.60H320.60M318.40,492.40V496.80" stroke="#a2061f" stroke-width="1.2"/>
<path d="M324.80,494.60H329.20M327.00,492.40V496.80" stroke="#a2061f" stroke-width="1.2"/>
<path d="M351.00,494.60H355.40M353.20,492.40V496.80" stroke="#a2061f" stroke-width="1.2"/>
<path d="M363.00,494.60H367.40M365.20,492.40V496.80" stroke="#a2061f" stroke-width="1.2"/>
<path d="M379.30,494.60H383.70M381.50,492.40V496.80" stroke="#a2061f" stroke-width="1.2"/>
<path d="M393.20,494.60H397.60M395.40,492.40V496.80" stroke="#a2061f" stroke-width="1.2"/>
<path d="M411.60,494.60H416.00M413.80,492.40V496.80" stroke="#a2061f" stroke-width="1.2"/>
<path d="M414.80,494.60H419.20M417.00,492.40V496.80" stroke="#a2061f" stroke-width="1.2"/>
<path d="M486.40,494.60H490.80M488.60,492.40V496.80" stroke="#a2061f" stroke-width="1.2"/>
<path d="M166.20,368.80H170.60M168.40,366.60V371.00" stroke="#a2061f" stroke-width="1.2"/>
<path d="M166.20,372.80H170.60M168.40,370.60V375.00" stroke="#a2061f" stroke-width="1.2"/>
<path d="M166.20,380.60H170.60M168.40,378.40V382.80" stroke="#a2061f" stroke-width="1.2"/>
<path d="M167.60,394.40H172.00M169.80,392.20V396.60" stroke="#a2061f" stroke-width="1.2"/>
<path d="M167.60,400.00H172.00M169.80,397.80V402.20" stroke="#a2061f" stroke-width="1.2"/>
<path d="M169.00,410.00H173.40M171.20,407.80V412.20" stroke="#a2061f" stroke-width="1.2"/>
<path d="M170.20,416.00H174.60M172.40,413.80V418.20" stroke="#a2061f" stroke-width="1.2"/>
<path d="M171.00,421.00H175.40M173.20,418.80V423.20" stroke="#a2061f" stroke-width="1.2"/>
<path d="M171.60,424.00H176.00M173.80,421.80V426.20" stroke="#a2061f" stroke-width="1.2"/>
<path d="M172.20,431.80H176.60M174.40,429.60V434.00" stroke="#a2061f" stroke-width="1.2"/>
<path d="M172.40,436.00H176.80M174.60,433.80V438.20" stroke="#a2061f" stroke-width="1.2"/>
<path d="M112.6,343.4 H166.7 V444.6 H174.7 V469.3 H178 V494.6 H330.4 V519.8" stroke="#203c74" stroke-width="1.6" fill="none" stroke-linejoin="miter"/>
<circle cx="112.80" cy="343.40" r="1.8" fill="#203c74"/>
<circle cx="167.00" cy="368.70" r="1.8" fill="#203c74"/>
<circle cx="167.00" cy="393.90" r="1.8" fill="#203c74"/>
<circle cx="167.00" cy="444.60" r="1.8" fill="#203c74"/>
<circle cx="175.00" cy="469.30" r="1.8" fill="#203c74"/>
<circle cx="178.30" cy="494.60" r="1.8" fill="#203c74"/>
<circle cx="330.70" cy="519.80" r="1.8" fill="#203c74"/>
<text x="10.3" y="634.6" font-size="17.6" font-weight="bold" fill="#000" stroke="#000" stroke-width="0.4">C</text>
<path d="M112.5,644.65 V828.2 H505.19" stroke="#000" stroke-width="1.7" fill="none"/>
<path d="M108.0,828.20 H112.5" stroke="#000" stroke-width="1.3"/>
<text transform="translate(103.3,831.60) scale(1.07,1)" class="tk" text-anchor="end">0</text>
<path d="M108.0,792.29 H112.5" stroke="#000" stroke-width="1.3"/>
<text transform="translate(103.3,795.69) scale(1.07,1)" class="tk" text-anchor="end">20</text>
<path d="M108.0,756.38 H112.5" stroke="#000" stroke-width="1.3"/>
<text transform="translate(103.3,759.78) scale(1.07,1)" class="tk" text-anchor="end">40</text>
<path d="M108.0,720.47 H112.5" stroke="#000" stroke-width="1.3"/>
<text transform="translate(103.3,723.87) scale(1.07,1)" class="tk" text-anchor="end">60</text>
<path d="M108.0,684.56 H112.5" stroke="#000" stroke-width="1.3"/>
<text transform="translate(103.3,687.96) scale(1.07,1)" class="tk" text-anchor="end">80</text>
<path d="M108.0,648.65 H112.5" stroke="#000" stroke-width="1.3"/>
<text transform="translate(103.3,652.05) scale(1.07,1)" class="tk" text-anchor="end">100</text>
<path d="M112.50,828.2 V832.8000000000001" stroke="#000" stroke-width="1.3"/>
<text transform="translate(112.50,845.10) scale(1.07,1)" class="tk" text-anchor="middle">0</text>
<path d="M135.38,828.2 V832.8000000000001" stroke="#000" stroke-width="1.3"/>
<text transform="translate(135.38,845.10) scale(1.07,1)" class="tk" text-anchor="middle" textLength="9.72" lengthAdjust="spacing">30</text>
<path d="M158.25,828.2 V832.8000000000001" stroke="#000" stroke-width="1.3"/>
<text transform="translate(158.25,845.10) scale(1.07,1)" class="tk" text-anchor="middle" textLength="9.72" lengthAdjust="spacing">60</text>
<path d="M181.13,828.2 V832.8000000000001" stroke="#000" stroke-width="1.3"/>
<text transform="translate(181.13,845.10) scale(1.07,1)" class="tk" text-anchor="middle" textLength="9.72" lengthAdjust="spacing">90</text>
<path d="M204.00,828.2 V832.8000000000001" stroke="#000" stroke-width="1.3"/>
<text transform="translate(204.00,845.10) scale(1.07,1)" class="tk" text-anchor="middle" textLength="14.81" lengthAdjust="spacing">120</text>
<path d="M226.88,828.2 V832.8000000000001" stroke="#000" stroke-width="1.3"/>
<text transform="translate(226.88,845.10) scale(1.07,1)" class="tk" text-anchor="middle" textLength="14.81" lengthAdjust="spacing">150</text>
<path d="M249.76,828.2 V832.8000000000001" stroke="#000" stroke-width="1.3"/>
<text transform="translate(249.76,845.10) scale(1.07,1)" class="tk" text-anchor="middle" textLength="14.81" lengthAdjust="spacing">180</text>
<path d="M272.63,828.2 V832.8000000000001" stroke="#000" stroke-width="1.3"/>
<text transform="translate(272.63,845.10) scale(1.07,1)" class="tk" text-anchor="middle" textLength="14.81" lengthAdjust="spacing">210</text>
<path d="M295.51,828.2 V832.8000000000001" stroke="#000" stroke-width="1.3"/>
<text transform="translate(295.51,845.10) scale(1.07,1)" class="tk" text-anchor="middle" textLength="14.81" lengthAdjust="spacing">240</text>
<path d="M318.38,828.2 V832.8000000000001" stroke="#000" stroke-width="1.3"/>
<text transform="translate(318.38,845.10) scale(1.07,1)" class="tk" text-anchor="middle" textLength="14.81" lengthAdjust="spacing">270</text>
<path d="M341.26,828.2 V832.8000000000001" stroke="#000" stroke-width="1.3"/>
<text transform="translate(341.26,845.10) scale(1.07,1)" class="tk" text-anchor="middle" textLength="14.81" lengthAdjust="spacing">300</text>
<path d="M364.14,828.2 V832.8000000000001" stroke="#000" stroke-width="1.3"/>
<text transform="translate(364.14,845.10) scale(1.07,1)" class="tk" text-anchor="middle" textLength="14.81" lengthAdjust="spacing">330</text>
<path d="M387.01,828.2 V832.8000000000001" stroke="#000" stroke-width="1.3"/>
<text transform="translate(387.01,845.10) scale(1.07,1)" class="tk" text-anchor="middle" textLength="14.81" lengthAdjust="spacing">360</text>
<path d="M409.89,828.2 V832.8000000000001" stroke="#000" stroke-width="1.3"/>
<text transform="translate(409.89,845.10) scale(1.07,1)" class="tk" text-anchor="middle" textLength="14.81" lengthAdjust="spacing">390</text>
<path d="M432.76,828.2 V832.8000000000001" stroke="#000" stroke-width="1.3"/>
<text transform="translate(432.76,845.10) scale(1.07,1)" class="tk" text-anchor="middle" textLength="14.81" lengthAdjust="spacing">420</text>
<path d="M455.64,828.2 V832.8000000000001" stroke="#000" stroke-width="1.3"/>
<text transform="translate(455.64,845.10) scale(1.07,1)" class="tk" text-anchor="middle" textLength="14.81" lengthAdjust="spacing">450</text>
<path d="M478.52,828.2 V832.8000000000001" stroke="#000" stroke-width="1.3"/>
<text transform="translate(478.52,845.10) scale(1.07,1)" class="tk" text-anchor="middle" textLength="14.81" lengthAdjust="spacing">480</text>
<path d="M501.39,828.2 V832.8000000000001" stroke="#000" stroke-width="1.3"/>
<text transform="translate(501.39,845.10) scale(1.07,1)" class="tk" text-anchor="middle" textLength="14.81" lengthAdjust="spacing">510</text>
<text transform="translate(79,736.22) rotate(-90) scale(0.715,1)" class="ttl" text-anchor="middle" word-spacing="1.2" textLength="231.75" lengthAdjust="spacing">Proportion of patients who remain on study</text>
<text transform="translate(171.9,857.90) scale(0.715,1)" class="ttl" word-spacing="1.21" textLength="382.80" lengthAdjust="spacing">Duration of transfusion independence during any 8-week interval (days)</text>
<path d="M408.0,648.5 H430.6" stroke="#a2061f" stroke-width="1.6"/>
<path d="M410.30,645.5 V651.5" stroke="#a2061f" stroke-width="1.4"/>
<path d="M418.60,645.5 V651.5" stroke="#a2061f" stroke-width="1.4"/>
<path d="M426.80,645.5 V651.5" stroke="#a2061f" stroke-width="1.4"/>
<text x="434.9" y="651.4" font-size="8.1" fill="#1a1a1a" textLength="71.0" lengthAdjust="spacingAndGlyphs" stroke="#1a1a1a" stroke-width="0.25">Luspatercept + BSC</text>
<path d="M408.0,664.5 H430.3" stroke="#203c74" stroke-width="1.6"/>
<ellipse cx="410.30" cy="664.5" rx="2.0" ry="1.7" fill="#203c74"/>
<ellipse cx="418.60" cy="664.5" rx="2.0" ry="1.7" fill="#203c74"/>
<ellipse cx="426.80" cy="664.5" rx="2.0" ry="1.7" fill="#203c74"/>
<text x="434.9" y="667.4" font-size="8.1" fill="#1a1a1a" textLength="53.6" lengthAdjust="spacingAndGlyphs" stroke="#1a1a1a" stroke-width="0.25">Placebo + BSC</text>
<text x="27.3" y="877.7" class="rt" textLength="88.9" lengthAdjust="spacingAndGlyphs">Number of Patients at Risk</text>
<text x="27.3" y="890.90" class="rt" textLength="70.6" lengthAdjust="spacingAndGlyphs">Luspatercept + BSC</text>
<text x="27.3" y="904.10" class="rt" textLength="53.9" lengthAdjust="spacingAndGlyphs">Placebo + BSC</text>
<text transform="translate(112.50,890.90) scale(0.93,1)" class="rn">24</text>
<text transform="translate(135.38,890.90) scale(0.93,1)" class="rn">24</text>
<text transform="translate(158.25,890.90) scale(0.93,1)" class="rn">19</text>
<text transform="translate(181.13,890.90) scale(0.93,1)" class="rn">8</text>
<text transform="translate(204.00,890.90) scale(0.93,1)" class="rn">6</text>
<text transform="translate(226.88,890.90) scale(0.93,1)" class="rn">5</text>
<text transform="translate(249.76,890.90) scale(0.93,1)" class="rn">5</text>
<text transform="translate(272.63,890.90) scale(0.93,1)" class="rn">5</text>
<text transform="translate(295.51,890.90) scale(0.93,1)" class="rn">4</text>
<text transform="translate(318.38,890.90) scale(0.93,1)" class="rn">4</text>
<text transform="translate(341.26,890.90) scale(0.93,1)" class="rn">4</text>
<text transform="translate(364.14,890.90) scale(0.93,1)" class="rn">3</text>
<text transform="translate(387.01,890.90) scale(0.93,1)" class="rn">3</text>
<text transform="translate(409.89,890.90) scale(0.93,1)" class="rn">3</text>
<text transform="translate(432.76,890.90) scale(0.93,1)" class="rn">3</text>
<text transform="translate(455.64,890.90) scale(0.93,1)" class="rn">2</text>
<text transform="translate(478.52,890.90) scale(0.93,1)" class="rn">1</text>
<text transform="translate(501.39,890.90) scale(0.93,1)" class="rn">0</text>
<text transform="translate(112.50,904.10) scale(0.93,1)" class="rn">2</text>
<text transform="translate(135.38,904.10) scale(0.93,1)" class="rn">2</text>
<text transform="translate(158.25,904.10) scale(0.93,1)" class="rn">2</text>
<text transform="translate(181.13,904.10) scale(0.93,1)" class="rn">0</text>
<text transform="translate(204.00,904.10) scale(0.93,1)" class="rn">0</text>
<text transform="translate(226.88,904.10) scale(0.93,1)" class="rn">0</text>
<text transform="translate(249.76,904.10) scale(0.93,1)" class="rn">0</text>
<text transform="translate(272.63,904.10) scale(0.93,1)" class="rn">0</text>
<text transform="translate(295.51,904.10) scale(0.93,1)" class="rn">0</text>
<text transform="translate(318.38,904.10) scale(0.93,1)" class="rn">0</text>
<text transform="translate(341.26,904.10) scale(0.93,1)" class="rn">0</text>
<text transform="translate(364.14,904.10) scale(0.93,1)" class="rn">0</text>
<text transform="translate(387.01,904.10) scale(0.93,1)" class="rn">0</text>
<text transform="translate(409.89,904.10) scale(0.93,1)" class="rn">0</text>
<text transform="translate(432.76,904.10) scale(0.93,1)" class="rn">0</text>
<text transform="translate(455.64,904.10) scale(0.93,1)" class="rn">0</text>
<text transform="translate(478.52,904.10) scale(0.93,1)" class="rn">0</text>
<text transform="translate(501.39,904.10) scale(0.93,1)" class="rn">0</text>
<path d="M153.5,648.6 H154.5 V664.2 H155.8 V671.4 H157.1 V685.8 H158.1 V694 H159.5 V723.5 H161.2 V739.8 H167.6 V747.7 H169.9 V756.3 H190.8 V774.2 H206 V782.9 H283.5 V792.3 H353.1 V801.1 H499.6" stroke="#a2061f" stroke-width="1.6" fill="none" stroke-linejoin="miter"/>
<path d="M152.30,664.20H156.70M154.50,662.00V666.40" stroke="#a2061f" stroke-width="1.2"/>
<path d="M153.60,671.40H158.00M155.80,669.20V673.60" stroke="#a2061f" stroke-width="1.2"/>
<path d="M154.90,685.80H159.30M157.10,683.60V688.00" stroke="#a2061f" stroke-width="1.2"/>
<path d="M157.10,694.00H161.50M159.30,691.80V696.20" stroke="#a2061f" stroke-width="1.2"/>
<path d="M157.30,723.50H161.70M159.50,721.30V725.70" stroke="#a2061f" stroke-width="1.2"/>
<path d="M159.00,731.50H163.40M161.20,729.30V733.70" stroke="#a2061f" stroke-width="1.2"/>
<path d="M159.00,739.80H163.40M161.20,737.60V742.00" stroke="#a2061f" stroke-width="1.2"/>
<path d="M165.40,747.70H169.80M167.60,745.50V749.90" stroke="#a2061f" stroke-width="1.2"/>
<path d="M167.70,756.30H172.10M169.90,754.10V758.50" stroke="#a2061f" stroke-width="1.2"/>
<path d="M178.60,756.30H183.00M180.80,754.10V758.50" stroke="#a2061f" stroke-width="1.2"/>
<path d="M188.60,765.00H193.00M190.80,762.80V767.20" stroke="#a2061f" stroke-width="1.2"/>
<path d="M188.60,774.20H193.00M190.80,772.00V776.40" stroke="#a2061f" stroke-width="1.2"/>
<path d="M203.80,782.90H208.20M206.00,780.70V785.10" stroke="#a2061f" stroke-width="1.2"/>
<path d="M281.30,792.30H285.70M283.50,790.10V794.50" stroke="#a2061f" stroke-width="1.2"/>
<path d="M350.90,801.10H355.30M353.10,798.90V803.30" stroke="#a2061f" stroke-width="1.2"/>
<path d="M431.50,801.10H435.90M433.70,798.90V803.30" stroke="#a2061f" stroke-width="1.2"/>
<path d="M460.00,801.10H464.40M462.20,798.90V803.30" stroke="#a2061f" stroke-width="1.2"/>
<path d="M497.40,801.10H501.80M499.60,798.90V803.30" stroke="#a2061f" stroke-width="1.2"/>
<path d="M112.6,648.6 H159.5 V738.5 H173.7 V827.9" stroke="#203c74" stroke-width="1.6" fill="none" stroke-linejoin="miter"/>
<circle cx="112.50" cy="648.65" r="1.8" fill="#203c74"/>
<circle cx="159.50" cy="738.50" r="1.8" fill="#203c74"/>
<circle cx="173.70" cy="828.20" r="1.8" fill="#203c74"/>
</svg>
</body></html>
